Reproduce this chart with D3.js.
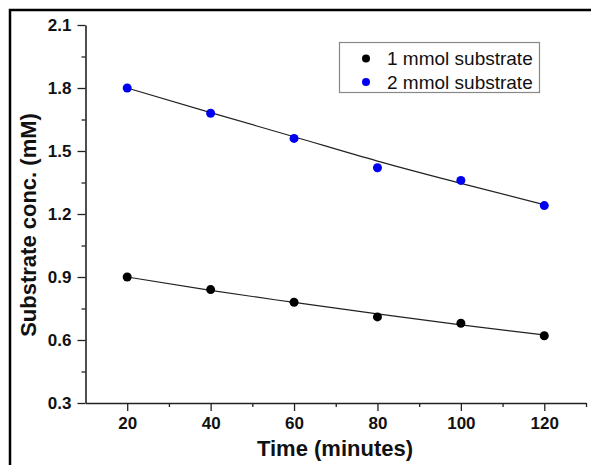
<!DOCTYPE html>
<html>
<head>
<meta charset="utf-8">
<script src="https://cdn.jsdelivr.net/npm/d3@7"></script>
<style>
  body { margin: 0; background: #fff; }
  svg { display: block; font-family: "Liberation Sans", Arial, sans-serif; }
</style>
</head>
<body>
<div id="chart"></div>
<script>
// data
var times = [20, 40, 60, 80, 100, 120];
var sub1 = [0.90, 0.84, 0.78, 0.71, 0.68, 0.62];
var sub2 = [1.80, 1.68, 1.56, 1.42, 1.36, 1.24];
// fitted curves
var fit1 = [0.900, 0.836, 0.779, 0.724, 0.672, 0.624];
var fit2 = [1.800, 1.683, 1.568, 1.452, 1.346, 1.244];
var xTicks = [20, 40, 60, 80, 100, 120];
var xMinor = [30, 50, 70, 90, 110, 130];
var yTicks = [0.3, 0.6, 0.9, 1.2, 1.5, 1.8, 2.1];
var yMinor = [0.45, 0.75, 1.05, 1.35, 1.65, 1.95];
var seriesNames = ["1 mmol substrate", "2 mmol substrate"];
var seriesColors = ["#000000", "#0000f0"];

var w = 591, h = 465;

var svg = d3.select("#chart").append("svg")
    .attr("width", w)
    .attr("height", h);

// outer frame
svg.append("rect")
    .attr("x", 10).attr("y", 10)
    .attr("width", 620).attr("height", 500)
    .attr("fill", "none")
    .attr("stroke", "#000")
    .attr("stroke-width", 2.5);

var x = d3.scaleLinear().domain([10, 130]).range([85.5, 586]);
var y = d3.scaleLinear().domain([0.3, 2.1]).range([403, 25]);

// axes
svg.append("g")
    .attr("transform", "translate(0," + y(0.3) + ")")
    .call(d3.axisBottom(x).tickValues(xTicks).tickSize(8).tickSizeOuter(0).tickPadding(6));
svg.append("g")
    .attr("transform", "translate(0," + y(0.3) + ")")
    .call(d3.axisBottom(x).tickValues(xMinor).tickSize(4).tickSizeOuter(0).tickFormat(""))
    .select(".domain").remove();

svg.append("g")
    .attr("transform", "translate(" + x(10) + ",0)")
    .call(d3.axisLeft(y).tickValues(yTicks).tickSize(8).tickSizeOuter(0).tickPadding(6)
        .tickFormat(d3.format(".1f")));
svg.append("g")
    .attr("transform", "translate(" + x(10) + ",0)")
    .call(d3.axisLeft(y).tickValues(yMinor).tickSize(4).tickSizeOuter(0).tickFormat(""))
    .select(".domain").remove();

svg.selectAll(".domain").attr("stroke", "#222").attr("stroke-width", 1.6);
svg.selectAll(".tick line").attr("stroke", "#222").attr("stroke-width", 1.3);
svg.selectAll(".tick text")
    .attr("fill", "#111")
    .style("font-size", "17px")
    .style("font-weight", "bold")
    .style("font-family", "'Liberation Sans', Arial, sans-serif");

// axis titles
svg.append("text")
    .attr("x", 335).attr("y", 456)
    .attr("text-anchor", "middle")
    .style("font-size", "22px")
    .style("font-weight", "bold")
    .attr("fill", "#111")
    .text("Time (minutes)");

svg.append("text")
    .attr("transform", "translate(36,225) rotate(-90)")
    .attr("text-anchor", "middle")
    .style("font-size", "22px")
    .style("font-weight", "bold")
    .attr("fill", "#111")
    .text("Substrate conc. (mM)");

// fit lines
var line = d3.line()
    .x(function(d, i) { return x(times[i]); })
    .y(function(d) { return y(d); })
    .curve(d3.curveMonotoneX);

[fit1, fit2].forEach(function(f) {
    svg.append("path")
        .datum(f)
        .attr("d", line)
        .attr("fill", "none")
        .attr("stroke", "#222")
        .attr("stroke-width", 1.2);
});

// points
[sub1, sub2].forEach(function(s, k) {
    svg.append("g").selectAll("circle")
        .data(s)
        .enter()
        .append("circle")
        .attr("cx", function(d, i) { return x(times[i]); })
        .attr("cy", function(d) { return y(d); })
        .attr("r", 4.5)
        .attr("fill", seriesColors[k]);
});

// legend
var legend = svg.append("g");
legend.append("rect")
    .attr("x", 339.5).attr("y", 42.5)
    .attr("width", 200).attr("height", 50)
    .attr("fill", "#fff")
    .attr("stroke", "#888")
    .attr("stroke-width", 1.2);

seriesNames.forEach(function(name, k) {
    var ly = 58.5 + k * 23.5;
    legend.append("circle")
        .attr("cx", 366).attr("cy", ly)
        .attr("r", 4)
        .attr("fill", seriesColors[k]);
    legend.append("text")
        .attr("x", 387).attr("y", ly + 6.5)
        .style("font-size", "19px")
        .attr("fill", "#111")
        .text(name);
});
</script>
</body>
</html>
